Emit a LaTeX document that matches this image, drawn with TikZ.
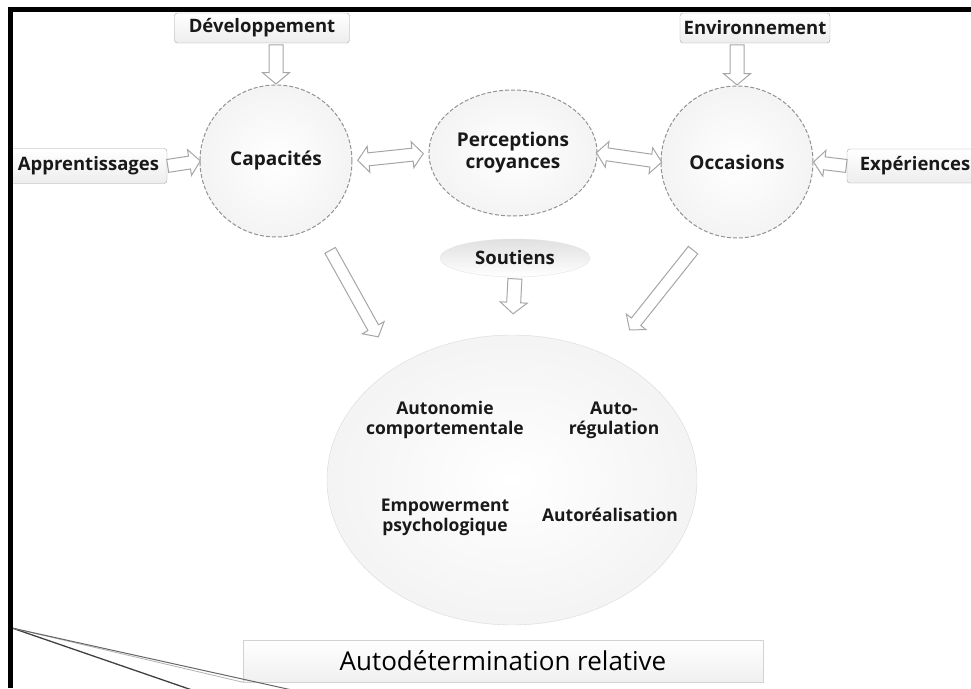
\documentclass[tikz,border=0pt]{standalone}
\usepackage{fontspec}
\setmainfont{Open Sans}
\usetikzlibrary{shapes.geometric, shapes.arrows, arrows.meta, positioning}

\begin{document}
\begin{tikzpicture}[
    x=1pt, y=-1pt,
    every node/.style = {text=black!90, font=\bfseries},
    source/.style = {rectangle, draw=gray!70, rounded corners=3pt, top color=white, bottom color=gray!14, minimum height=30pt, inner sep=0pt, font=\fontsize{18.5}{20}\bfseries},
    factor/.style = {circle, draw=gray!85, dash pattern=on 4pt off 2pt, line width=1pt, inner color=white, outer color=gray!9, minimum size=152pt, align=center, font=\fontsize{19}{22}\bfseries},
    support/.style = {ellipse, draw=gray!22, top color=gray!24, bottom color=white, minimum width=150pt, minimum height=38pt, font=\fontsize{18.5}{20}\bfseries},
    outcome/.style = {ellipse, draw=gray!30, inner color=white, outer color=gray!9, minimum width=370pt, minimum height=290pt},
    facet/.style = {align=center, font=\fontsize{17.5}{20}\bfseries},
    banner/.style = {rectangle, draw=gray!35, top color=white, bottom color=gray!12, minimum width=520pt, minimum height=42pt, text=black, font=\fontsize{26}{28}\selectfont},
    feed/.style = {single arrow, draw=gray!70, fill=white, line width=1pt, inner sep=6.5pt, text height=0pt, text depth=0pt, single arrow head extend=6.5pt, single arrow tip angle=100, sloped, allow upside down, anchor=tail},
    link/.style = {double arrow, draw=gray!70, fill=white, line width=1pt, inner sep=6pt, text height=0pt, text depth=0pt, double arrow head extend=6.5pt, double arrow tip angle=100, sloped, allow upside down, minimum height=66pt}
]
    \useasboundingbox (0,0) rectangle (971,688);

    % sources
    \node[source, minimum width=175pt] (dev) at (262,28) {Développement};
    \node[source, minimum width=150pt] (env) at (755,28) {Environnement};
    \node[source, minimum width=157pt, minimum height=35pt] (app) at (88.5,166) {Apprentissages};
    \node[source, minimum width=136pt, minimum height=34pt] (exp) at (915,166) {Expériences};

    % the three factors
    \node[factor] (cap) at (276,161) {Capacités};
    \node[factor, ellipse, minimum size=0pt, minimum width=140pt, minimum height=126pt] (perc) at (513,153) {Perceptions\\croyances};
    \node[factor] (occ) at (737,162) {Occasions};

    \node[support] (sout) at (515,258) {Soutiens};

    % outcome
    \node[outcome] (auto) at (512,480) {};
    \node[facet] (compo) at (445,420) {Autonomie\\comportementale};
    \node[facet] (regul) at (614,420) {Auto-\\régulation};
    \node[facet] (empow) at (445,517) {Empowerment\\psychologique};
    \node[facet] (reali) at (610,515) {Autoréalisation};
    \node[banner] (rel) at (503,661) {Autodétermination relative};

    % hollow arrows
    \path (dev.south -| cap.north) -- (cap.north) node[feed, pos=.03, minimum height=39pt] {};
    \path (env.south -| occ.north) -- (occ.north) node[feed, pos=.03, minimum height=40pt] {};
    \path (app.east) -- (cap.west) node[feed, pos=0, minimum height=33pt, inner sep=6pt] {};
    \path (exp.west) -- (occ.east) node[feed, pos=0, minimum height=33pt, inner sep=6pt] {};
    \path (cap.east) -- (perc.west) node[link, midway] {};
    \path (perc.east) -- (occ.west) node[link, midway] {};
    \path (sout.south) -- (auto.north) node[feed, pos=.02, minimum height=35pt] {};
    \path (cap.-58) -- (auto.136) node[feed, pos=.17, minimum height=99pt, inner sep=5.5pt] {};
    \path (occ.-113) -- (auto.52) node[feed, pos=.14, minimum height=102pt, inner sep=5.5pt] {};

    % callout lines at bottom left
    \coordinate (hook) at (12,628);
    \coordinate (cut1) at (192,690);
    \coordinate (cut2) at (292,690);
    \draw[black!75, line width=1.3pt] (hook) -- (cut1);
    \draw[gray!60, line width=.8pt] (hook) -- (rel.south west);
    \draw[black!60, line width=1pt] (hook) -- (cut2);

    % frame
    \draw[line width=4.5pt] (10.5,688) -- (10.5,9.5) -- (971,9.5);
\end{tikzpicture}
\end{document}
